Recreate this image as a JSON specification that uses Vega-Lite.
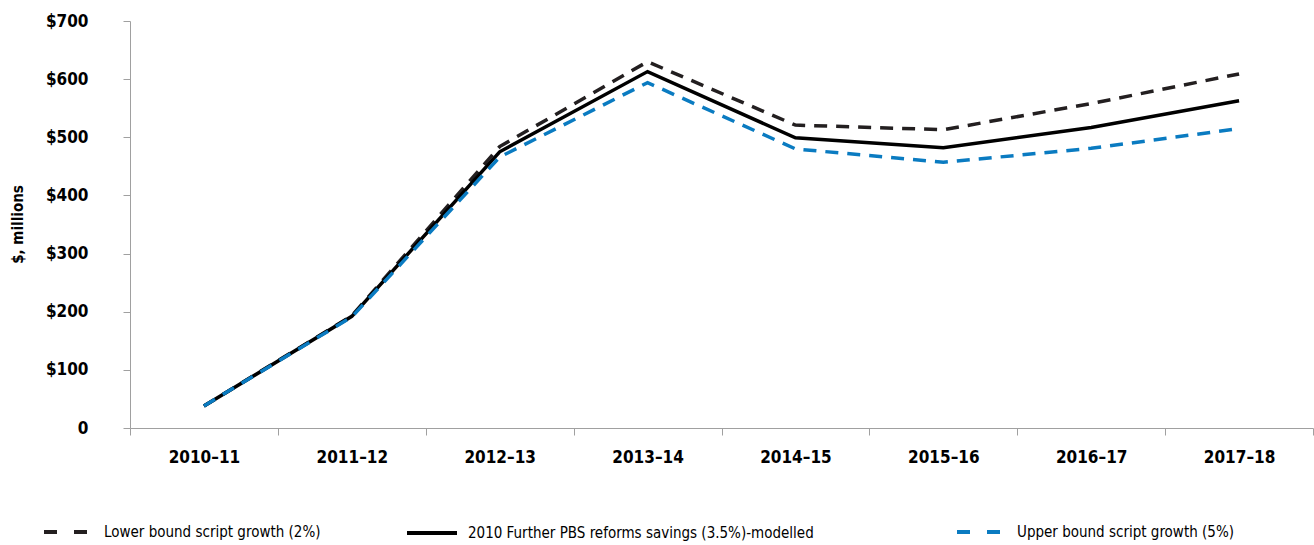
{
  "$schema": "https://vega.github.io/schema/vega-lite/v6.json",
  "width": 1183,
  "height": 407,
  "autosize": {"type": "none"},
  "padding": {"left": 130, "top": 21, "right": 1, "bottom": 117},
  "background": "white",
  "config": {
    "view": {"stroke": null},
    "font": "'DejaVu Sans Condensed', 'Roboto', sans-serif",
    "legend": {"padding": 0}
  },
  "data": {
    "values": [
      {"year": "2010–11", "series": "Lower bound script growth (2%)", "value": 38},
      {"year": "2011–12", "series": "Lower bound script growth (2%)", "value": 193},
      {"year": "2012–13", "series": "Lower bound script growth (2%)", "value": 484},
      {"year": "2013–14", "series": "Lower bound script growth (2%)", "value": 630},
      {"year": "2014–15", "series": "Lower bound script growth (2%)", "value": 521},
      {"year": "2015–16", "series": "Lower bound script growth (2%)", "value": 513},
      {"year": "2016–17", "series": "Lower bound script growth (2%)", "value": 558},
      {"year": "2017–18", "series": "Lower bound script growth (2%)", "value": 609},
      {"year": "2010–11", "series": "2010 Further PBS reforms savings (3.5%)-modelled", "value": 38},
      {"year": "2011–12", "series": "2010 Further PBS reforms savings (3.5%)-modelled", "value": 192},
      {"year": "2012–13", "series": "2010 Further PBS reforms savings (3.5%)-modelled", "value": 475},
      {"year": "2013–14", "series": "2010 Further PBS reforms savings (3.5%)-modelled", "value": 613},
      {"year": "2014–15", "series": "2010 Further PBS reforms savings (3.5%)-modelled", "value": 499},
      {"year": "2015–16", "series": "2010 Further PBS reforms savings (3.5%)-modelled", "value": 482},
      {"year": "2016–17", "series": "2010 Further PBS reforms savings (3.5%)-modelled", "value": 517},
      {"year": "2017–18", "series": "2010 Further PBS reforms savings (3.5%)-modelled", "value": 563},
      {"year": "2010–11", "series": "Upper bound script growth (5%)", "value": 38},
      {"year": "2011–12", "series": "Upper bound script growth (5%)", "value": 191},
      {"year": "2012–13", "series": "Upper bound script growth (5%)", "value": 466},
      {"year": "2013–14", "series": "Upper bound script growth (5%)", "value": 594},
      {"year": "2014–15", "series": "Upper bound script growth (5%)", "value": 480},
      {"year": "2015–16", "series": "Upper bound script growth (5%)", "value": 457},
      {"year": "2016–17", "series": "Upper bound script growth (5%)", "value": 481},
      {"year": "2017–18", "series": "Upper bound script growth (5%)", "value": 515}
    ]
  },
  "encoding": {
    "x": {
      "field": "year",
      "type": "ordinal",
      "sort": null,
      "scale": {"type": "band", "paddingInner": 0, "paddingOuter": 0},
      "axis": {
        "title": null,
        "labelAngle": 0,
        "tickBand": "extent",
        "tickSize": 7,
        "tickColor": "#a0a0a0",
        "domainColor": "#a0a0a0",
        "labelFontSize": 17,
        "labelFontWeight": "bold",
        "labelColor": "#000000",
        "labelPadding": 14
      }
    },
    "y": {
      "field": "value",
      "type": "quantitative",
      "scale": {"domain": [0, 700], "nice": false},
      "axis": {
        "values": [0, 100, 200, 300, 400, 500, 600, 700],
        "labelExpr": "datum.value == 0 ? '0' : '$' + datum.value",
        "grid": false,
        "tickSize": 7,
        "tickColor": "#a0a0a0",
        "domainColor": "#a0a0a0",
        "labelFontSize": 17,
        "labelFontWeight": "bold",
        "labelColor": "#000000",
        "labelPadding": 35,
        "title": "$, millions",
        "titleFontSize": 15,
        "titleFontWeight": "bold",
        "titleColor": "#000000",
        "titleX": -113,
        "titleY": 203,
        "titleAngle": -90,
        "titleAlign": "center",
        "titleBaseline": "middle"
      }
    }
  },
  "layer": [
    {
      "transform": [{"filter": "datum.series == 'Lower bound script growth (2%)'"}],
      "mark": {"type": "line", "strokeWidth": 3.5, "strokeDash": [13, 9]},
      "encoding": {
        "color": {
          "field": "series",
          "type": "nominal",
          "scale": {"domain": ["Lower bound script growth (2%)"], "range": ["#231f20"]},
          "legend": {
            "title": null,
            "orient": "none",
            "legendX": -88,
            "legendY": 485,
            "symbolType": "stroke",
            "symbolSize": 2304,
            "symbolStrokeWidth": 4,
            "symbolDash": [13, 17],
            "labelFontSize": 15,
            "labelOffset": 10,
            "labelColor": "#000000",
            "labelLimit": 0
          }
        }
      }
    },
    {
      "transform": [{"filter": "datum.series == '2010 Further PBS reforms savings (3.5%)-modelled'"}],
      "mark": {"type": "line", "strokeWidth": 3.5},
      "encoding": {
        "color": {
          "field": "series",
          "type": "nominal",
          "scale": {"domain": ["2010 Further PBS reforms savings (3.5%)-modelled"], "range": ["#000000"]},
          "legend": {
            "title": null,
            "orient": "none",
            "legendX": 275,
            "legendY": 485,
            "symbolType": "stroke",
            "symbolSize": 2500,
            "symbolStrokeWidth": 4,
            "labelFontSize": 15,
            "labelOffset": 9,
            "labelColor": "#000000",
            "labelLimit": 0
          }
        }
      }
    },
    {
      "transform": [{"filter": "datum.series == 'Upper bound script growth (5%)'"}],
      "mark": {"type": "line", "strokeWidth": 3.5, "strokeDash": [13, 9]},
      "encoding": {
        "color": {
          "field": "series",
          "type": "nominal",
          "scale": {"domain": ["Upper bound script growth (5%)"], "range": ["#0a7bc1"]},
          "legend": {
            "title": null,
            "orient": "none",
            "legendX": 825,
            "legendY": 485,
            "symbolType": "stroke",
            "symbolSize": 2304,
            "symbolStrokeWidth": 4,
            "symbolDash": [13, 17],
            "labelFontSize": 15,
            "labelOffset": 10,
            "labelColor": "#000000",
            "labelLimit": 0
          }
        }
      }
    }
  ],
  "resolve": {"scale": {"color": "independent"}}
}
